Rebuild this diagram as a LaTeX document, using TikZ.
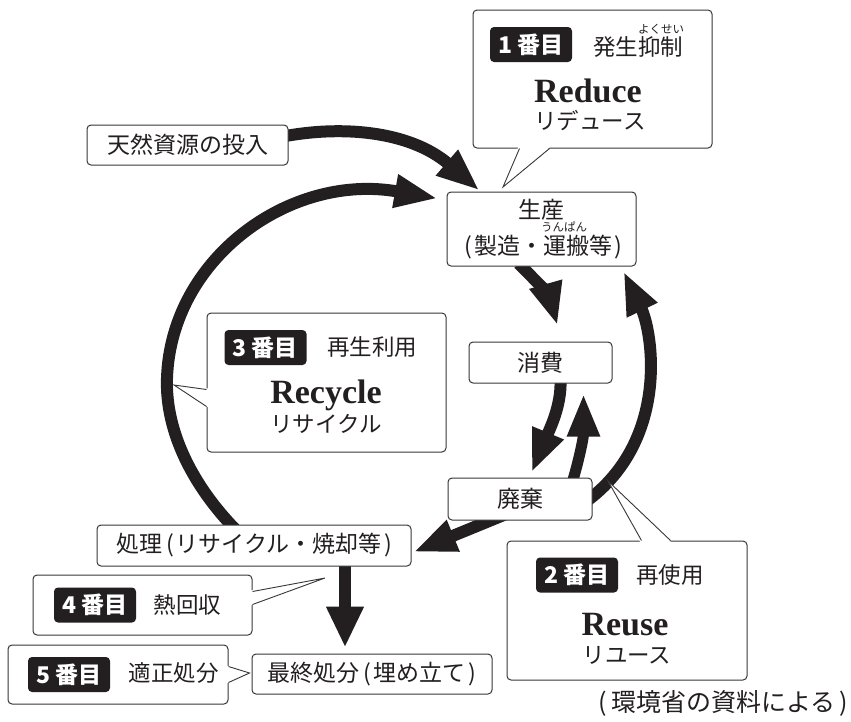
\documentclass[tikz,border=0pt]{standalone}
\usepackage{fontspec}
\newfontfamily\jp{Noto Sans CJK JP}
\newfontfamily\lserif{Liberation Serif}
\usetikzlibrary{arrows.meta,calc}
\definecolor{ink}{RGB}{35,31,32}
\definecolor{edge}{RGB}{55,55,55}
\newcommand\jlp{\kern4pt(\kern2pt}
\newcommand\jrp{\kern2.5pt)}
\pgfdeclarelayer{bg}
\pgfsetlayers{bg,main}
\begin{document}
\begin{tikzpicture}[x=1pt,y=-1pt,
  box/.style={draw=edge,line width=1pt,rounded corners=4pt,fill=white,inner sep=0pt,
    text=ink,font=\jp\fontsize{23}{36}\selectfont,align=center},
  callout/.style={draw=edge,line width=1pt,rounded corners=4pt,fill=white,inner sep=0pt},
  numbox/.style={fill=ink,rounded corners=4pt,inner sep=0pt,text=white,
    minimum width=82pt,minimum height=35pt,font=\jp\bfseries\fontsize{23}{23}\selectfont},
  jtxt/.style={inner sep=0pt,text=ink,font=\jp\fontsize{22.5}{27}\selectfont},
  ruby/.style={inner sep=0pt,text=ink,font=\jp\fontsize{11.5}{12}\selectfont},
  etxt/.style={inner sep=0pt,text=ink,anchor=base,font=\lserif\bfseries\fontsize{34}{34}\selectfont},
  tailline/.style={draw=edge,line width=0.9pt,line join=miter},
  bigarrow/.style={draw=ink,line width=12pt,-{Triangle[length=43pt,width=31pt]}},
  midarrow/.style={draw=ink,line width=11pt,-{Triangle[length=43pt,width=30pt]}}
]
\useasboundingbox (0,0) rectangle (851,721);

% ---------- process boxes ----------
\node[box,minimum width=201pt,minimum height=40pt] (nat) at (187.5,145) {天然資源の投入};
\node[box,minimum width=189pt,minimum height=74pt] (prod) at (541.5,229) {生産\\\jlp 製造・運搬等\jrp};
\node[ruby] (rbprod) at (564,226.5) {うんぱん};
\node[box,minimum width=143pt,minimum height=41pt] (cons) at (540.5,362.5) {消費};
\node[box,minimum width=144pt,minimum height=42pt] (disc) at (520,499) {廃棄};
\node[box,minimum width=314pt,minimum height=41pt] (proc) at (254,545.5) {処理\jlp リサイクル・焼却等\jrp};
\node[box,minimum width=240pt,minimum height=40pt] (final) at (372,674) {最終処分\jlp 埋め立て\jrp};

% ---------- arrows (behind boxes) ----------
\coordinate (bmid) at (167,378);
\begin{pgfonlayer}{bg}
  \draw[bigarrow] ($(nat.east)+(-8,-8)$) .. controls +(60,-12) and +(-70,-60) .. ($(prod.north west)+(33,-1)$);
  \draw[bigarrow] ($(proc.north west)+(139,5)$) .. controls +(-41,-42) and +(-2,55) .. (bmid)
     .. controls +(4,-119) and +(-148,-26) .. ($(prod.north west)+(-9,7)$);
  \draw[bigarrow] ($(prod.south west)+(72,-3)$) .. controls +(16,15) and +(-8,-28) .. ($(cons.north west)+(89,-16)$);
  \draw[bigarrow] ($(cons.south west)+(92,-3)$) .. controls +(1,25) and +(18,-43) .. ($(disc.north west)+(84,-5)$);
  \draw[midarrow] ($(disc.north west)+(125,4)$) .. controls +(6,-20) and +(0,45) .. ($(cons.south west)+(115,10)$);
  \draw[bigarrow] ($(disc.east)+(-7,3)$) .. controls +(85,-62) and +(29,60) .. ($(prod.south east)+(-13,5)$);
  \draw[bigarrow] ($(disc.south)+(-15,-6)$) -- ($(proc.east)+(2,6.5)$);
  \draw[draw=ink,line width=12pt,-{Triangle[length=41pt,width=35pt]}] ($(proc.south)+(91,-6)$) -- ($(final.north)+(-27,-6)$);
\end{pgfonlayer}

% ---------- callout 1: Reduce ----------
\node[callout,minimum width=239pt,minimum height=138pt] (red) at (592.5,79) {};
\coordinate (redtip) at (503,187);
\fill[white] ($(red.south west)+(46,-2)$) -- (redtip) -- ($(red.south west)+(78,-2)$) -- cycle;
\draw[tailline] ($(red.south west)+(47,0)$) -- (redtip) -- ($(red.south west)+(77,0)$);
\node[numbox] (n1) at (531,44.5) {1\kern5pt番目};
\node[jtxt] (t1) at (638,47) {発生抑制};
\node[ruby] (rb1) at (661,29) {よくせい};
\node[etxt] (e1) at (588,102) {Reduce};
\node[jtxt] (k1) at (590,121) {リデュース};

% ---------- callout 3: Recycle ----------
\node[callout,minimum width=239pt,minimum height=139pt] (rec) at (326.5,382.5) {};
\coordinate (rectip) at (174,385);
\fill[white] ($(rec.north west)+(2,76)$) -- (rectip) -- ($(rec.north west)+(2,95)$) -- cycle;
\draw[tailline] ($(rec.north west)+(0,77)$) -- (rectip) -- ($(rec.north west)+(0,94)$);
\node[numbox] (n3) at (265.5,347.5) {3\kern5pt番目};
\node[jtxt] (t3) at (372,347) {再生利用};
\node[etxt] (e3) at (326,403) {Recycle};
\node[jtxt] (k3) at (326,424) {リサイクル};

% ---------- callout 2: Reuse ----------
\node[callout,minimum width=240pt,minimum height=139pt] (reu) at (627,610.5) {};
\coordinate (reutip) at (608,481);
\fill[white] ($(reu.north west)+(134,2)$) -- (reutip) -- ($(reu.north west)+(165,2)$) -- cycle;
\draw[tailline] ($(reu.north west)+(135,0)$) -- (reutip) -- ($(reu.north west)+(164,0)$);
\node[numbox] (n2) at (577,575) {2\kern5pt番目};
\node[jtxt] (t2) at (670,575) {再使用};
\node[etxt] (e2) at (625,635) {Reuse};
\node[jtxt] (k2) at (627,655) {リユース};

% ---------- callout 4 ----------
\node[callout,minimum width=219pt,minimum height=60pt] (c4) at (142.5,605) {};
\coordinate (c4tip) at (325,578);
\fill[white] ($(c4.north east)+(-2,16)$) -- (c4tip) -- ($(c4.north east)+(-2,31)$) -- cycle;
\draw[tailline] ($(c4.north east)+(0,17)$) -- (c4tip) -- ($(c4.north east)+(0,30)$);
\node[numbox] (n4) at (95,605) {4\kern5pt番目};
\node[jtxt] (t4) at (187.5,605) {熱回収};

% ---------- callout 5 ----------
\node[callout,minimum width=220pt,minimum height=59pt] (c5) at (118,674.5) {};
\coordinate (c5tip) at ($(final.west)+(-2,-1)$);
\fill[white] ($(c5.north east)+(-2,21)$) -- (c5tip) -- ($(c5.north east)+(-2,39)$) -- cycle;
\draw[tailline] ($(c5.north east)+(0,22)$) -- (c5tip) -- ($(c5.north east)+(0,38)$);
\node[numbox] (n5) at (69,674.5) {5\kern5pt番目};
\node[jtxt] (t5) at (173.5,673) {適正処分};

% ---------- source ----------
\node[inner sep=0pt,text=ink,font=\jp\fontsize{25}{28}\selectfont,anchor=east] (src) at (848,703) {\kern4pt(\kern4pt 環境省の資料による\kern4pt)};
\end{tikzpicture}
\end{document}
